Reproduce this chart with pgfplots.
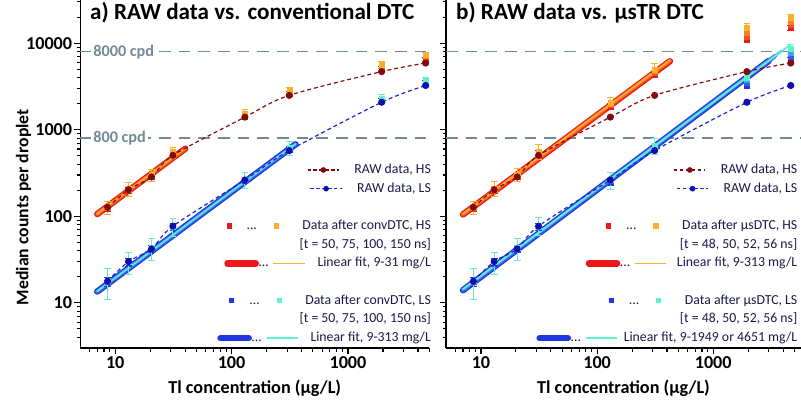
\documentclass[border=0pt]{standalone}
\usepackage{pgfplots}
\pgfplotsset{compat=1.18}
\usepackage{fontspec}
\setmainfont{Carlito}

\definecolor{rawHS}{RGB}{130,12,12}
\definecolor{rawLS}{RGB}{25,35,210}
\definecolor{rawLSdot}{RGB}{15,15,175}
\definecolor{hsA}{RGB}{235,25,25}
\definecolor{hsB}{RGB}{242,80,35}
\definecolor{hsC}{RGB}{246,130,35}
\definecolor{hsD}{RGB}{250,175,45}
\definecolor{lsA}{RGB}{35,55,225}
\definecolor{lsB}{RGB}{55,95,232}
\definecolor{lsC}{RGB}{70,160,240}
\definecolor{lsD}{RGB}{95,240,205}
\definecolor{cpdgray}{RGB}{112,138,150}
\definecolor{legtext}{RGB}{25,25,75}

\newcommand{\legfont}{\fontsize{14}{15}\selectfont\color{legtext}}

% legend symbols, built once as boxes
\newsavebox\symRawHS \newsavebox\symRawLS
\newsavebox\symSqHS \newsavebox\symSqLS
\newsavebox\symFitHS \newsavebox\symFitLS
\newcommand{\mkraw}[3]{\sbox#1{\tikz[baseline=-3.5pt]{\draw[#2,line width=1.2pt,dash pattern=on 3.5pt off 2.5pt] (0,0)--(32pt,0);\fill[#3] (16pt,0) circle (2.9pt);}}}
\newcommand{\mksq}[3]{\sbox#1{\tikz[baseline=-3.5pt]{\fill[#2] (-2.6pt,-2.6pt) rectangle (2.6pt,2.6pt);
  \node[text=legtext,inner sep=0pt,anchor=base,font=\fontsize{14}{15}\selectfont] at (23pt,-3.5pt) {...};
  \fill[#3] (45.4pt,-2.6pt) rectangle (50.6pt,2.6pt);}}}
\newcommand{\mkfit}[3]{\sbox#1{\tikz[baseline=-3.5pt]{\draw[#2,line width=6.5pt,line cap=round] (3.2pt,0)--(32pt,0);
  \node[text=legtext,inner sep=0pt,anchor=base,font=\fontsize{14}{15}\selectfont] at (40pt,-3.5pt) {...};
  \draw[#3,line width=1.6pt] (50pt,0)--(82pt,0);}}}

\pgfplotsset{
  cpdline/.style={color=cpdgray, line width=1.6pt, dash pattern=on 12pt off 8pt, forget plot},
  rawH/.style={color=rawHS, line width=1.2pt, dash pattern=on 4pt off 3pt, smooth, mark=*, mark size=3pt, mark options={solid, fill=rawHS}, forget plot},
  rawL/.style={color=rawLS, line width=1.2pt, dash pattern=on 4pt off 3pt, smooth, mark=*, mark size=3pt, mark options={solid, draw=rawLSdot, fill=rawLSdot}, forget plot},
  sqm/.style={only marks, mark=square*, mark size=2.6pt, forget plot},
  sqerr/.style={only marks, mark=square*, mark size=2.6pt, forget plot,
    error bars/y dir=both, error bars/y explicit,
    error bars/error bar style={line width=1pt},
    error bars/error mark options={rotate=90, mark size=3.4pt, line width=1pt}},
  fitline/.style={forget plot, line cap=round},
  legstyle/.style={legend cell align=right,
    legend style={draw=none, fill=none, inner sep=0pt, row sep=5pt,
      nodes={inner sep=0pt, text height=10.5pt, text depth=3.5pt}}},
}

\begin{document}
\mkraw\symRawHS{rawHS}{rawHS}
\mkraw\symRawLS{rawLS}{rawLSdot}
\mksq\symSqHS{hsA}{hsD}
\mksq\symSqLS{lsA}{lsD}
\mkfit\symFitHS{hsA}{hsD}
\mkfit\symFitLS{lsA}{lsD}
\begin{tikzpicture}

% ---------------- a) conventional DTC ----------------
\begin{axis}[at={(68pt,53pt)}, anchor=south west, scale only axis, width=355pt, height=354pt,
  xmode=log, ymode=log, xmin=5, xmax=5000, ymin=3, ymax=31600,
  axis x line*=bottom, axis y line*=left,
  axis line style={line width=1.3pt},
  tick align=outside, major tick length=6pt, minor tick length=3.5pt,
  tick style={black, line width=1.1pt},
  xtick={10,100,1000}, xticklabels={10,100,1000},
  ytick={10,100,1000,10000}, yticklabels={10,100,1000,10000},
  minor xtick={6,7,8,9,20,30,...,90,200,300,...,900,2000,3000,4000,5000},
  minor ytick={4,5,6,7,8,9,20,30,...,90,200,300,...,900,2000,3000,...,9000,20000,30000},
  tick label style={font=\bfseries\fontsize{18.5}{18.5}\selectfont, inner sep=2pt},
  xlabel={Tl concentration (µg/L)},
  xlabel style={font=\bfseries\fontsize{18.5}{18.5}\selectfont, inner sep=0pt, at={(axis description cs:0.5,-0.115)}, anchor=center},
  ylabel={Median counts per droplet},
  ylabel style={font=\bfseries\fontsize{18}{18}\selectfont, inner sep=0pt, at={(axis description cs:-0.162,0.405)}, anchor=center},
  legstyle, legend style={at={(rel axis cs:1.005,0.532)}, anchor=north east},
]
\addplot[cpdline] coordinates {(5,8000) (5000,8000)};
\addplot[cpdline] coordinates {(5,800) (5000,800)};

% linear fits
\addplot[fitline, hsA, line width=6.5pt] coordinates {(7,106) (40,605)};
\addplot[fitline, hsB, line width=4.2pt] coordinates {(7,106) (40,605)};
\addplot[fitline, hsC, line width=2.6pt] coordinates {(7,107) (40,610)};
\addplot[fitline, hsD, line width=1.4pt] coordinates {(7,107) (40,612)};
\addplot[fitline, lsA, line width=6.5pt] coordinates {(7,13.5) (355,680)};
\addplot[fitline, lsB, line width=4.2pt] coordinates {(7,13.5) (355,680)};
\addplot[fitline, lsC, line width=2.6pt] coordinates {(7,13.6) (355,685)};
\addplot[fitline, lsD, line width=1.4pt] coordinates {(7,13.6) (355,688)};

% data after convDTC, HS
\addplot[sqerr, hsA] coordinates {(8.6,124) +- (0,10) (13,200) +- (0,18) (20.5,290) +- (0,25) (31.3,520) +- (0,50)
  (130,1420) +- (0,120) (313,2600) +- (0,200) (1949,5000) +- (0,350) (4651,6500) +- (0,400)};
\addplot[sqm, hsB] coordinates {(8.6,126) (13,203) (20.5,294) (31.3,530) (130,1460) (313,2680) (1949,5200) (4651,6800)};
\addplot[sqm, hsC] coordinates {(8.6,127) (13,206) (20.5,298) (31.3,540) (130,1500) (313,2760) (1949,5400) (4651,7100)};
\addplot[sqerr, hsD] coordinates {(8.6,128) +- (0,22) (13,208) +- (0,40) (20.5,300) +- (0,50) (31.3,550) +- (0,80)
  (130,1520) +- (0,200) (313,2800) +- (0,300) (1949,5600) +- (0,500) (4651,7300) +- (0,600)};
% data after convDTC, LS
\addplot[sqerr, lsA] coordinates {(8.6,17.5) +- (0,2) (13,29.5) +- (0,3) (20.5,42) +- (0,4) (31.3,75) +- (0,7)
  (130,258) +- (0,20) (313,595) +- (0,40) (1949,2150) +- (0,150) (4651,3450) +- (0,250)};
\addplot[sqm, lsB] coordinates {(8.6,17.7) (13,29.8) (20.5,42.5) (31.3,76) (130,262) (313,605) (1949,2200) (4651,3550)};
\addplot[sqm, lsC] coordinates {(8.6,17.9) (13,30) (20.5,43) (31.3,76) (130,265) (313,612) (1949,2260) (4651,3650)};
\addplot[sqerr, lsD] coordinates {(8.6,18) +- (0,7) (13,30) +- (0,8.5) (20.5,43) +- (0,12) (31.3,76) +- (0,18)
  (130,265) +- (0,55) (313,620) +- (0,110) (1949,2300) +- (0,230) (4651,3700) +- (0,350)};

% RAW data
\addplot[rawH] coordinates {(8.6,127) (13,203) (20.5,285) (31.3,506) (130,1400) (313,2500) (1949,4700) (4651,5900)};
\addplot[rawL] coordinates {(8.6,17.8) (13,30) (20.5,42) (31.3,77) (130,263) (313,575) (1949,2080) (4651,3250)};

\node[anchor=west, fill=white, inner sep=2.5pt, text=cpdgray, font=\bfseries\fontsize{16.5}{16.5}\selectfont] at (axis cs:6.15,8000) {8000 cpd};
\node[anchor=west, fill=white, inner sep=2.5pt, text=cpdgray, font=\bfseries\fontsize{16.5}{16.5}\selectfont] at (axis cs:6.15,800) {800 cpd};
\node[anchor=north west, inner sep=0pt, font=\bfseries\fontsize{23.5}{23.5}\selectfont] at (rel axis cs:0.028,0.995) {a) RAW data vs. conventional DTC};

\addlegendimage{empty legend}\addlegendentry{\legfont\usebox\symRawHS\hspace{15pt}RAW data, HS}
\addlegendimage{empty legend}\addlegendentry{\legfont\usebox\symRawLS\hspace{15pt}RAW data, LS}
\addlegendimage{empty legend}\addlegendentry{}
\addlegendimage{empty legend}\addlegendentry{\legfont\usebox\symSqHS\hspace{24pt}Data after convDTC, HS}
\addlegendimage{empty legend}\addlegendentry{\legfont[t = 50, 75, 100, 150 ns]}
\addlegendimage{empty legend}\addlegendentry{\legfont\usebox\symFitHS\hspace{12pt}Linear fit, 9-31 mg/L}
\addlegendimage{empty legend}\addlegendentry{}
\addlegendimage{empty legend}\addlegendentry{\legfont\usebox\symSqLS\hspace{24pt}Data after convDTC, LS}
\addlegendimage{empty legend}\addlegendentry{\legfont[t = 50, 75, 100, 150 ns]}
\addlegendimage{empty legend}\addlegendentry{\legfont\usebox\symFitLS\hspace{12pt}Linear fit, 9-313 mg/L}
\end{axis}

% ---------------- b) microsecond TR DTC ----------------
\begin{axis}[at={(440pt,53pt)}, anchor=south west, scale only axis, width=361pt, height=354pt,
  xmode=log, ymode=log, xmin=5, xmax=5700, ymin=3, ymax=31600,
  axis x line*=bottom, axis y line*=left,
  axis line style={line width=1.3pt},
  tick align=outside, major tick length=6pt, minor tick length=3.5pt,
  tick style={black, line width=1.1pt},
  xtick={10,100,1000}, xticklabels={10,100,1000},
  ytick={10,100,1000,10000}, yticklabels={},
  minor xtick={6,7,8,9,20,30,...,90,200,300,...,900,2000,3000,4000,5000},
  minor ytick={4,5,6,7,8,9,20,30,...,90,200,300,...,900,2000,3000,...,9000,20000,30000},
  tick label style={font=\bfseries\fontsize{18.5}{18.5}\selectfont, inner sep=2pt},
  xlabel={Tl concentration (µg/L)},
  xlabel style={font=\bfseries\fontsize{18.5}{18.5}\selectfont, inner sep=0pt, at={(axis description cs:0.5,-0.115)}, anchor=center},
  legstyle, legend style={at={(rel axis cs:0.99,0.532)}, anchor=north east},
]
\addplot[cpdline] coordinates {(5,8000) (5700,8000)};
\addplot[cpdline] coordinates {(5,800) (5700,800)};

% linear fits
\addplot[fitline, hsA, line width=6.5pt] coordinates {(7,105) (424,6200)};
\addplot[fitline, hsB, line width=4.2pt] coordinates {(7,105) (424,6250)};
\addplot[fitline, hsC, line width=2.6pt] coordinates {(7,106) (424,6300)};
\addplot[fitline, hsD, line width=1.4pt] coordinates {(7,107) (424,6400)};
\addplot[fitline, lsA, line width=6.5pt] coordinates {(7,14) (3000,6240)};
\addplot[fitline, lsB, line width=4.2pt] coordinates {(7,14) (3400,7100)};
\addplot[fitline, lsC, line width=2.6pt] coordinates {(7,14.2) (3900,8200)};
\addplot[fitline, lsD, line width=1.8pt] coordinates {(7,14.4) (4651,9700)};

% data after musDTC, HS
\addplot[sqerr, hsA] coordinates {(8.6,125) +- (0,10) (13,202) +- (0,18) (20.5,292) +- (0,25) (31.3,525) +- (0,50)
  (130,1850) +- (0,150) (313,4300) +- (0,300) (1949,11000) +- (0,700) (4651,15000) +- (0,900)};
\addplot[sqm, hsB] coordinates {(8.6,126) (13,204) (20.5,296) (31.3,535) (130,1930) (313,4550) (1949,12000) (4651,16500)};
\addplot[sqm, hsC] coordinates {(8.6,127) (13,206) (20.5,300) (31.3,545) (130,2000) (313,4800) (1949,13300) (4651,18000)};
\addplot[sqerr, hsD] coordinates {(8.6,128) +- (0,22) (13,210) +- (0,40) (20.5,305) +- (0,50) (31.3,560) +- (0,110)
  (130,2050) +- (0,300) (313,5000) +- (0,800) (1949,15000) +- (0,2000) (4651,19500) +- (0,2200)};
% data after musDTC, LS
\addplot[sqerr, lsA] coordinates {(8.6,17.5) +- (0,2) (13,29.5) +- (0,3) (20.5,42) +- (0,4) (31.3,75) +- (0,7)
  (130,250) +- (0,20) (313,600) +- (0,45) (1949,3300) +- (0,300) (4651,6300) +- (0,500)};
\addplot[sqm, lsB] coordinates {(8.6,17.7) (13,29.8) (20.5,42.5) (31.3,76) (130,258) (313,620) (1949,3550) (4651,7000)};
\addplot[sqm, lsC] coordinates {(8.6,17.9) (13,30) (20.5,43) (31.3,76) (130,262) (313,640) (1949,3800) (4651,7800)};
\addplot[sqerr, lsD] coordinates {(8.6,18) +- (0,7) (13,30) +- (0,8.5) (20.5,43) +- (0,12) (31.3,78) +- (0,18)
  (130,265) +- (0,60) (313,660) +- (0,140) (1949,4000) +- (0,600) (4651,8700) +- (0,1000)};

% RAW data
\addplot[rawH] coordinates {(8.6,127) (13,203) (20.5,285) (31.3,506) (130,1400) (313,2500) (1949,4700) (4651,5900)};
\addplot[rawL] coordinates {(8.6,17.8) (13,30) (20.5,42) (31.3,77) (130,263) (313,575) (1949,2080) (4651,3250)};

\node[anchor=north west, inner sep=0pt, font=\bfseries\fontsize{23.5}{23.5}\selectfont] at (rel axis cs:0.028,0.995) {b) RAW data vs. µsTR DTC};

\addlegendimage{empty legend}\addlegendentry{\legfont\usebox\symRawHS\hspace{15pt}RAW data, HS}
\addlegendimage{empty legend}\addlegendentry{\legfont\usebox\symRawLS\hspace{15pt}RAW data, LS}
\addlegendimage{empty legend}\addlegendentry{}
\addlegendimage{empty legend}\addlegendentry{\legfont\usebox\symSqHS\hspace{24pt}Data after µsDTC, HS}
\addlegendimage{empty legend}\addlegendentry{\legfont[t = 48, 50, 52, 56 ns]}
\addlegendimage{empty legend}\addlegendentry{\legfont\usebox\symFitHS\hspace{10pt}Linear fit, 9-313 mg/L}
\addlegendimage{empty legend}\addlegendentry{}
\addlegendimage{empty legend}\addlegendentry{\legfont\usebox\symSqLS\hspace{24pt}Data after µsDTC, LS}
\addlegendimage{empty legend}\addlegendentry{\legfont[t = 48, 50, 52, 56 ns]}
\addlegendimage{empty legend}\addlegendentry{\legfont\usebox\symFitLS\hspace{6pt}Linear fit, 9-1949 or 4651 mg/L}
\end{axis}

\pgfresetboundingbox
\useasboundingbox (0,0) rectangle (801pt,407pt);
\end{tikzpicture}
\end{document}
